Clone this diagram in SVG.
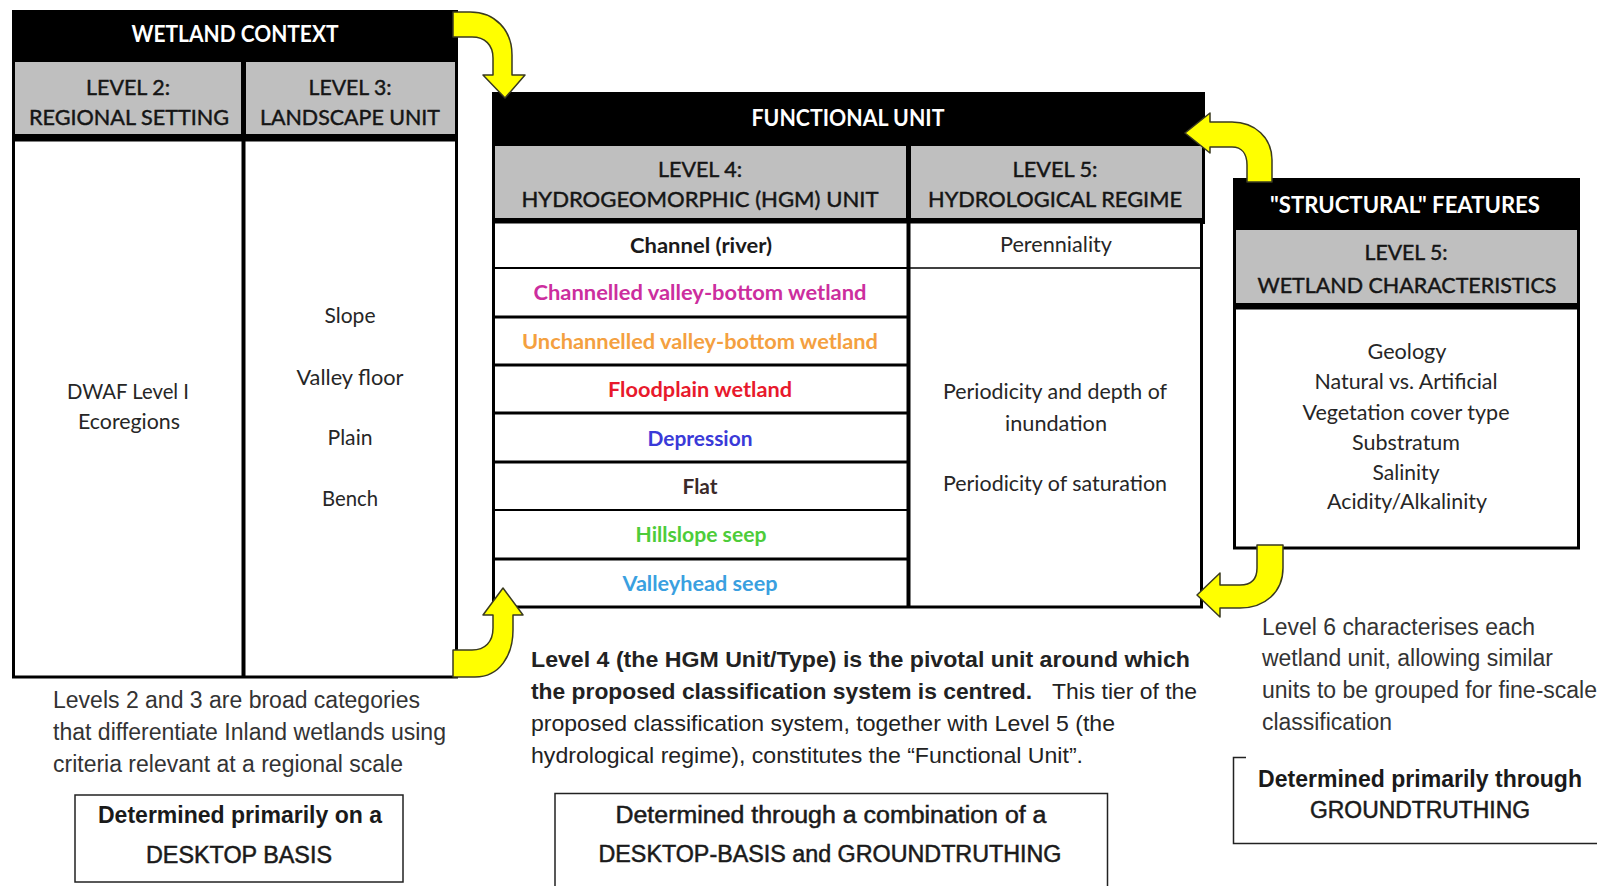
<svg xmlns="http://www.w3.org/2000/svg" width="1597" height="886" viewBox="0 0 1597 886">
<style>
.bg{fill:#ffffff}
.blk{fill:#000000}
.gray{fill:#BFBFBF}
.box{fill:#ffffff;stroke:#000000;stroke-width:3}
.ln{stroke:#000000;stroke-width:3;fill:none}
.thin{stroke:#000000;stroke-width:1.5;fill:none}
.t{font-family:Lato,"Liberation Sans",Arial,sans-serif;text-anchor:middle}
.hdr{font-size:22px;font-weight:700;fill:#ffffff}
.sub{font-size:22px;fill:#151515;stroke:#151515;stroke-width:0.45}
.row{font-size:21px;font-weight:700}
.body{font-size:21px;fill:#262626}
.cap{font-family:"Liberation Sans",Arial,sans-serif;font-size:23px;fill:#333333}
.para{font-family:"Liberation Sans",Arial,sans-serif;font-size:22px;fill:#222222}
.bold{font-weight:700}
.det{font-family:"Liberation Sans",Arial,sans-serif;font-size:23px;fill:#1a1a1a;text-anchor:middle}
.med{stroke:#1a1a1a;stroke-width:0.5}
.frame{fill:none;stroke:#222222;stroke-width:1.5}
.arrow{fill:#FFFF00;stroke:#3a3a20;stroke-width:1.5;stroke-linejoin:round}
</style>
<rect class="bg" x="0" y="0" width="1597" height="886"/>

<g id="wetland-context">
  <rect class="blk" x="12" y="10" width="446" height="132"/>
  <rect class="gray" x="15" y="62" width="226" height="72"/>
  <rect class="gray" x="246" y="62" width="209" height="72"/>
  <rect class="box" x="13.5" y="140" width="443" height="537"/>
  <line class="ln" x1="243.5" y1="62" x2="243.5" y2="677" style="stroke-width:4"/>
  <text class="t hdr" x="235" y="42" textLength="207" lengthAdjust="spacingAndGlyphs">WETLAND CONTEXT</text>
  <text class="t sub" x="128" y="95" textLength="84" lengthAdjust="spacingAndGlyphs">LEVEL 2:</text>
  <text class="t sub" x="129" y="125" textLength="200" lengthAdjust="spacingAndGlyphs">REGIONAL SETTING</text>
  <text class="t sub" x="350" y="95" textLength="83" lengthAdjust="spacingAndGlyphs">LEVEL 3:</text>
  <text class="t sub" x="350" y="125" textLength="180" lengthAdjust="spacingAndGlyphs">LANDSCAPE UNIT</text>
  <text class="t body" x="128" y="399" textLength="122" lengthAdjust="spacingAndGlyphs">DWAF Level I</text>
  <text class="t body" x="129" y="429" textLength="102" lengthAdjust="spacingAndGlyphs">Ecoregions</text>
  <text class="t body" x="350" y="323" textLength="51" lengthAdjust="spacingAndGlyphs">Slope</text>
  <text class="t body" x="350" y="385" textLength="107" lengthAdjust="spacingAndGlyphs">Valley floor</text>
  <text class="t body" x="350" y="445" textLength="45" lengthAdjust="spacingAndGlyphs">Plain</text>
  <text class="t body" x="350" y="506" textLength="56" lengthAdjust="spacingAndGlyphs">Bench</text>
</g>

<g id="functional-unit">
  <rect class="blk" x="492" y="92" width="713" height="132"/>
  <rect class="gray" x="495" y="146" width="411" height="72"/>
  <rect class="gray" x="911" y="146" width="291" height="72"/>
  <rect class="box" x="493.5" y="222" width="708" height="385"/>
  <line class="ln" x1="908.5" y1="146" x2="908.5" y2="608" style="stroke-width:4"/>
  <line class="ln" x1="493" y1="268" x2="908" y2="268" style="stroke-width:2"/>
  <line class="ln" x1="493" y1="317" x2="908" y2="317"/>
  <line class="ln" x1="493" y1="365" x2="908" y2="365"/>
  <line class="ln" x1="493" y1="413" x2="908" y2="413"/>
  <line class="ln" x1="493" y1="462" x2="908" y2="462"/>
  <line class="ln" x1="493" y1="510" x2="908" y2="510" style="stroke-width:2"/>
  <line class="ln" x1="493" y1="559" x2="908" y2="559"/>
  <line class="thin" x1="908" y1="268" x2="1201" y2="268"/>
  <text class="t hdr" x="848" y="126" textLength="193" lengthAdjust="spacingAndGlyphs">FUNCTIONAL UNIT</text>
  <text class="t sub" x="700" y="177" textLength="84" lengthAdjust="spacingAndGlyphs">LEVEL 4:</text>
  <text class="t sub" x="700" y="207" textLength="357" lengthAdjust="spacingAndGlyphs">HYDROGEOMORPHIC (HGM) UNIT</text>
  <text class="t sub" x="1055" y="177" textLength="85" lengthAdjust="spacingAndGlyphs">LEVEL 5:</text>
  <text class="t sub" x="1055" y="207" textLength="254" lengthAdjust="spacingAndGlyphs">HYDROLOGICAL REGIME</text>
  <text class="t row" x="701" y="253" fill="#1a1a1a" textLength="142" lengthAdjust="spacingAndGlyphs">Channel (river)</text>
  <text class="t row" x="700" y="300" fill="#CC2E9E" textLength="333" lengthAdjust="spacingAndGlyphs">Channelled valley-bottom wetland</text>
  <text class="t row" x="700" y="349" fill="#F4A040" textLength="356" lengthAdjust="spacingAndGlyphs">Unchannelled valley-bottom wetland</text>
  <text class="t row" x="700" y="397" fill="#E8192C" textLength="184" lengthAdjust="spacingAndGlyphs">Floodplain wetland</text>
  <text class="t row" x="700" y="446" fill="#3A3AD8" textLength="105" lengthAdjust="spacingAndGlyphs">Depression</text>
  <text class="t row" x="700" y="494" fill="#3B2A2A" textLength="35" lengthAdjust="spacingAndGlyphs">Flat</text>
  <text class="t row" x="701" y="542" fill="#4DCC3A" textLength="131" lengthAdjust="spacingAndGlyphs">Hillslope seep</text>
  <text class="t row" x="700" y="591" fill="#3AA0E0" textLength="155" lengthAdjust="spacingAndGlyphs">Valleyhead seep</text>
  <text class="t body" x="1056" y="252" textLength="112" lengthAdjust="spacingAndGlyphs">Perenniality</text>
  <text class="t body" x="1055" y="399" textLength="224" lengthAdjust="spacingAndGlyphs">Periodicity and depth of</text>
  <text class="t body" x="1056" y="431" textLength="102" lengthAdjust="spacingAndGlyphs">inundation</text>
  <text class="t body" x="1055" y="491" textLength="224" lengthAdjust="spacingAndGlyphs">Periodicity of saturation</text>
</g>

<g id="structural-features">
  <rect class="blk" x="1233" y="178" width="347" height="132"/>
  <rect class="gray" x="1236" y="230" width="341" height="73"/>
  <rect class="box" x="1234.5" y="308" width="344" height="240"/>
  <text class="t hdr" x="1405" y="213" textLength="270" lengthAdjust="spacingAndGlyphs">"STRUCTURAL" FEATURES</text>
  <text class="t sub" x="1406" y="260" textLength="83" lengthAdjust="spacingAndGlyphs">LEVEL 5:</text>
  <text class="t sub" x="1407" y="293" textLength="299" lengthAdjust="spacingAndGlyphs">WETLAND CHARACTERISTICS</text>
  <text class="t body" x="1407" y="359" textLength="79" lengthAdjust="spacingAndGlyphs">Geology</text>
  <text class="t body" x="1406" y="389" textLength="183" lengthAdjust="spacingAndGlyphs">Natural vs. Artificial</text>
  <text class="t body" x="1406" y="420" textLength="207" lengthAdjust="spacingAndGlyphs">Vegetation cover type</text>
  <text class="t body" x="1406" y="450" textLength="108" lengthAdjust="spacingAndGlyphs">Substratum</text>
  <text class="t body" x="1406" y="480" textLength="67" lengthAdjust="spacingAndGlyphs">Salinity</text>
  <text class="t body" x="1407" y="509" textLength="160" lengthAdjust="spacingAndGlyphs">Acidity/Alkalinity</text>
</g>

<g id="note-levels-2-3">
  <text class="cap" x="53" y="708" textLength="367" lengthAdjust="spacingAndGlyphs">Levels 2 and 3 are broad categories</text>
  <text class="cap" x="53" y="740" textLength="393" lengthAdjust="spacingAndGlyphs">that differentiate Inland wetlands using</text>
  <text class="cap" x="53" y="772" textLength="350" lengthAdjust="spacingAndGlyphs">criteria relevant at a regional scale</text>
</g>

<g id="desktop-basis">
  <rect class="frame" x="75" y="795" width="328" height="87"/>
  <text class="det bold" x="240" y="823" textLength="284" lengthAdjust="spacingAndGlyphs">Determined primarily on a</text>
  <text class="det med" x="239" y="863" textLength="186" lengthAdjust="spacingAndGlyphs">DESKTOP BASIS</text>
</g>

<g id="note-level-4">
  <text class="para bold" x="531" y="667" textLength="659" lengthAdjust="spacingAndGlyphs">Level 4 (the HGM Unit/Type) is the pivotal unit around which</text>
  <text class="para bold" x="531" y="699" textLength="501" lengthAdjust="spacingAndGlyphs">the proposed classification system is centred.</text>
  <text class="para" x="1052" y="699" textLength="145" lengthAdjust="spacingAndGlyphs">This tier of the</text>
  <text class="para" x="531" y="731" textLength="584" lengthAdjust="spacingAndGlyphs">proposed classification system, together with Level 5 (the</text>
  <text class="para" x="531" y="763" textLength="552" lengthAdjust="spacingAndGlyphs">hydrological regime), constitutes the “Functional Unit”.</text>
</g>

<g id="desktop-and-groundtruthing">
  <path class="frame" d="M555,887 V793.5 H1107.5 V887"/>
  <text class="det med" x="831" y="823" textLength="431" lengthAdjust="spacingAndGlyphs">Determined through a combination of a</text>
  <text class="det med" x="830" y="862" textLength="463" lengthAdjust="spacingAndGlyphs">DESKTOP-BASIS and GROUNDTRUTHING</text>
</g>

<g id="note-level-6">
  <text class="cap" x="1262" y="635" textLength="273" lengthAdjust="spacingAndGlyphs">Level 6 characterises each</text>
  <text class="cap" x="1262" y="666" textLength="291" lengthAdjust="spacingAndGlyphs">wetland unit, allowing similar</text>
  <text class="cap" x="1262" y="698" textLength="335" lengthAdjust="spacingAndGlyphs">units to be grouped for fine-scale</text>
  <text class="cap" x="1262" y="730" textLength="130" lengthAdjust="spacingAndGlyphs">classification</text>
</g>

<g id="groundtruthing">
  <path class="frame" d="M1246,757.5 H1233.5 V843.5 H1598"/>
  <text class="det bold" x="1420" y="787" textLength="324" lengthAdjust="spacingAndGlyphs">Determined primarily through</text>
  <text class="det med" x="1420" y="818" textLength="220" lengthAdjust="spacingAndGlyphs">GROUNDTRUTHING</text>
</g>

<g id="connectors">
  <path class="arrow" d="M453,12 H470 C495,12 512,30 512,55 V75 H525 L505,98 L483,75 H493 V58 C493,45 485,37 472,37 H453 Z"/>
  <path class="arrow" d="M453,677 H475 C500,677 513,655 513,630 V615 H523 L503,588 L483,615 H493 V628 C493,642 485,650 472,650 H453 Z"/>
  <path class="arrow" d="M1247,182 V165 C1247,154 1242,147 1232,147 H1210 V153 L1185,133 L1210,113 V122 H1232 C1255,122 1272,138 1272,160 V182 Z"/>
  <path class="arrow" d="M1257,545 V568 C1257,580 1250,585 1240,585 H1220 V573 L1197,595 L1220,617 V608 H1240 C1265,608 1283,592 1283,568 V545 Z"/>
</g>
</svg>
